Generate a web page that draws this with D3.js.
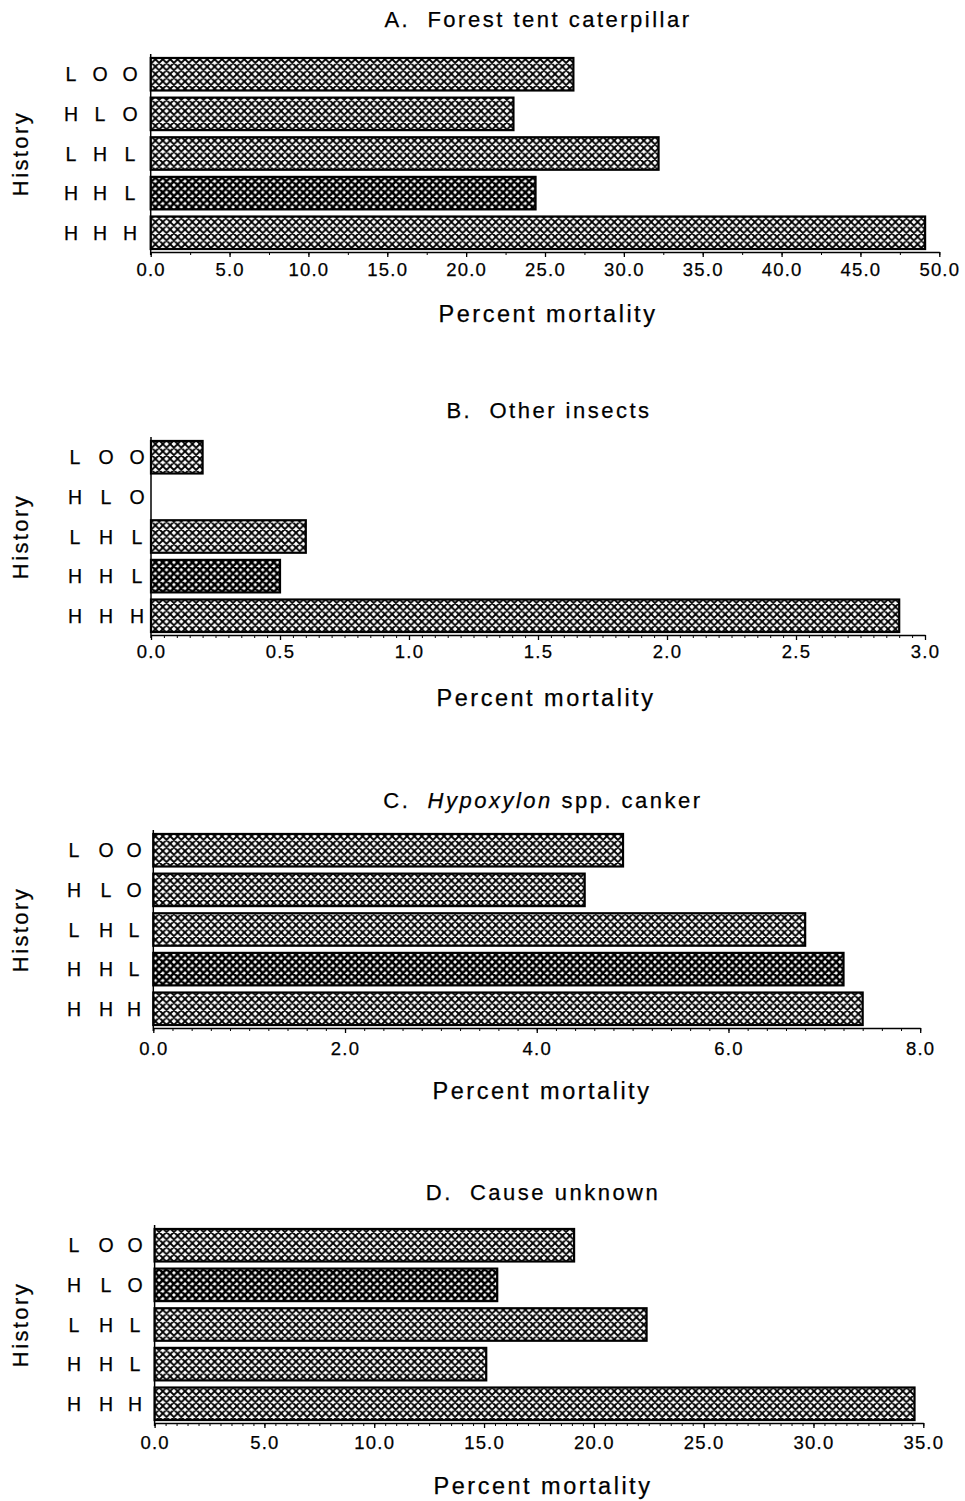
<!DOCTYPE html>
<html>
<head>
<meta charset="utf-8">
<script src="https://cdn.jsdelivr.net/npm/d3@7/dist/d3.min.js"></script>
<style>
    html, body { margin: 0; padding: 0; background: #fff; }
    svg { display: block; }
    text { font-family: "Liberation Sans", Arial, Helvetica, sans-serif; fill: #000; stroke: #000; stroke-width: 0.25px; }
    .panel-title { font-size: 22px; letter-spacing: 2.5px; }
    .axis-title { font-size: 23.5px; letter-spacing: 2.5px; }
    .y-title { font-size: 22px; letter-spacing: 2.4px; }
    .hist-letter { font-size: 19.5px; }
    .x-axis text { font-size: 18.5px; letter-spacing: 1.2px; font-family: "Liberation Sans", Arial, sans-serif; }
</style>
</head>
<body>
<svg id="chart" width="965" height="1501"></svg>
<script>
// 数据
const histories = ['LOO', 'HLO', 'LHL', 'HHL', 'HHH'];

const forestTentValues = [26.8, 23.0, 32.2, 24.4, 49.1];
const otherInsectValues = [0.2, 0, 0.6, 0.5, 2.9];
const hypoxylonValues = [4.9, 4.5, 6.8, 7.2, 7.4];
const unknownValues = [19.1, 15.6, 22.4, 15.1, 34.6];

const forestTentTicks = [0, 5, 10, 15, 20, 25, 30, 35, 40, 45, 50];
const otherInsectTicks = [0, 0.5, 1.0, 1.5, 2.0, 2.5, 3.0];
const hypoxylonTicks = [0, 2, 4, 6, 8];
const unknownTicks = [0, 5, 10, 15, 20, 25, 30, 35];

// 布局 (layout only)
const panels = [
    { title: ['A.  Forest tent caterpillar'], values: forestTentValues, ticks: forestTentTicks, minor: 2.5,
      x0: 150.7, x1: 939.3, axisY: 252, titleX: 538, titleY: 27, capTop: 11, xTitleX: 548, xTitleY: 322,
      cols: [71, 100, 130], dense: [3] },
    { title: ['B.  Other insects'], values: otherInsectValues, ticks: otherInsectTicks, minor: 0.05,
      x0: 151, x1: 925, axisY: 635, titleX: 549, titleY: 418, capTop: 10, xTitleX: 546, xTitleY: 706,
      cols: [75, 106, 137], dense: [3] },
    { title: ['C.  ', 'Hypoxylon', ' spp. canker'], values: hypoxylonValues, ticks: hypoxylonTicks, minor: 0.2,
      x0: 153.3, x1: 920.2, axisY: 1028, titleX: 543, titleY: 808, capTop: 14, xTitleX: 542, xTitleY: 1099,
      cols: [74, 106, 134], dense: [3] },
    { title: ['D.  Cause unknown'], values: unknownValues, ticks: unknownTicks, minor: 0.5,
      x0: 154.6, x1: 923.3, axisY: 1423, titleX: 543, titleY: 1200, capTop: 13, xTitleX: 543, xTitleY: 1494,
      cols: [74, 106, 135], dense: [1] }
];

const svg = d3.select('#chart');

// 交叉阴影图案
const renderPatterns = function() {
    let defs = svg.append('defs');
    [['hatch', 1.8], ['hatchDense', 2.5]].forEach(function(p) {
        let s = 7.4;
        defs.append('pattern')
            .attr('id', p[0])
            .attr('patternUnits', 'userSpaceOnUse')
            .attr('width', s)
            .attr('height', s)
            .call(function(pt) {
                pt.append('rect').attr('width', s).attr('height', s).attr('fill', '#fff');
                pt.append('path')
                    .attr('d', 'M0,0L' + s + ',' + s + 'M' + s + ',0L0,' + s +
                        'M-2,' + (s - 2) + 'L2,' + (s + 2) + 'M' + (s - 2) + ',-2L' + (s + 2) + ',2' +
                        'M-2,2L2,-2M' + (s - 2) + ',' + (s + 2) + 'L' + (s + 2) + ',' + (s - 2))
                    .attr('stroke', '#000')
                    .attr('stroke-width', p[1])
                    .attr('fill', 'none');
            });
    });
};

// 渲染单个面板
const renderPanel = function(cfg) {
    let g = svg.append('g').attr('class', 'panel');
    let x = d3.scaleLinear()
        .domain([0, cfg.ticks[cfg.ticks.length - 1]])
        .range([cfg.x0, cfg.x1]);
    let y = d3.scaleBand()
        .domain(histories)
        .range([cfg.axisY - 196, cfg.axisY - 1])
        .paddingInner(0.18)
        .paddingOuter(0.05);

    // title
    let t = g.append('text')
        .attr('class', 'panel-title')
        .attr('x', cfg.titleX)
        .attr('y', cfg.titleY)
        .attr('text-anchor', 'middle')
        .style('white-space', 'pre');
    cfg.title.forEach(function(part, i) {
        t.append('tspan')
            .attr('font-style', i === 1 ? 'italic' : 'normal')
            .text(part);
    });

    // bars
    g.selectAll('rect.bar')
        .data(histories.map(function(h, i) { return { key: h, value: cfg.values[i], i: i }; }))
        .enter()
        .filter(function(d) { return d.value > 0; })
        .append('rect')
        .attr('class', 'bar')
        .attr('x', x(0))
        .attr('y', function(d) { return y(d.key); })
        .attr('width', function(d) { return x(d.value) - x(0); })
        .attr('height', y.bandwidth())
        .attr('fill', function(d) { return cfg.dense.indexOf(d.i) >= 0 ? 'url(#hatchDense)' : 'url(#hatch)'; })
        .attr('stroke', '#000')
        .attr('stroke-width', 2.2);

    // y axis line
    g.append('line')
        .attr('x1', x(0)).attr('x2', x(0))
        .attr('y1', cfg.axisY - 198).attr('y2', cfg.axisY + 3)
        .attr('stroke', '#000')
        .attr('stroke-width', 1.5);

    // history letters
    histories.forEach(function(h) {
        h.split('').forEach(function(ch, j) {
            g.append('text')
                .attr('class', 'hist-letter')
                .attr('x', cfg.cols[j])
                .attr('y', y(h) + y.bandwidth() / 2)
                .attr('dy', '0.36em')
                .attr('text-anchor', 'middle')
                .text(ch);
        });
    });

    // x axis
    let minorAxis = d3.axisBottom(x)
        .tickValues(d3.range(0, x.domain()[1] + cfg.minor / 2, cfg.minor))
        .tickSize(3)
        .tickSizeOuter(0)
        .tickFormat('');
    g.append('g')
        .attr('transform', 'translate(0,' + cfg.axisY + ')')
        .call(minorAxis)
        .call(function(a) { a.select('.domain').remove(); })
        .selectAll('line').attr('stroke-width', 1);

    let majorAxis = d3.axisBottom(x)
        .tickValues(cfg.ticks)
        .tickSize(5)
        .tickSizeOuter(0)
        .tickPadding(cfg.capTop - 5)
        .tickFormat(d3.format('.1f'));
    let ax = g.append('g')
        .attr('class', 'x-axis')
        .attr('transform', 'translate(0,' + cfg.axisY + ')')
        .call(majorAxis);
    ax.attr('font-family', null).attr('font-size', null);
    ax.select('.domain').attr('stroke-width', 1.6);
    ax.selectAll('line').attr('stroke-width', 1.3);

    // axis titles
    g.append('text')
        .attr('class', 'axis-title')
        .attr('x', cfg.xTitleX)
        .attr('y', cfg.xTitleY)
        .attr('text-anchor', 'middle')
        .text('Percent mortality');

    let yc = (y.range()[0] + y.range()[1]) / 2;
    g.append('text')
        .attr('class', 'y-title')
        .attr('transform', 'translate(28,' + yc + ') rotate(-90)')
        .attr('text-anchor', 'middle')
        .text('History');
};

renderPatterns();
panels.forEach(renderPanel);
</script>
</body>
</html>
